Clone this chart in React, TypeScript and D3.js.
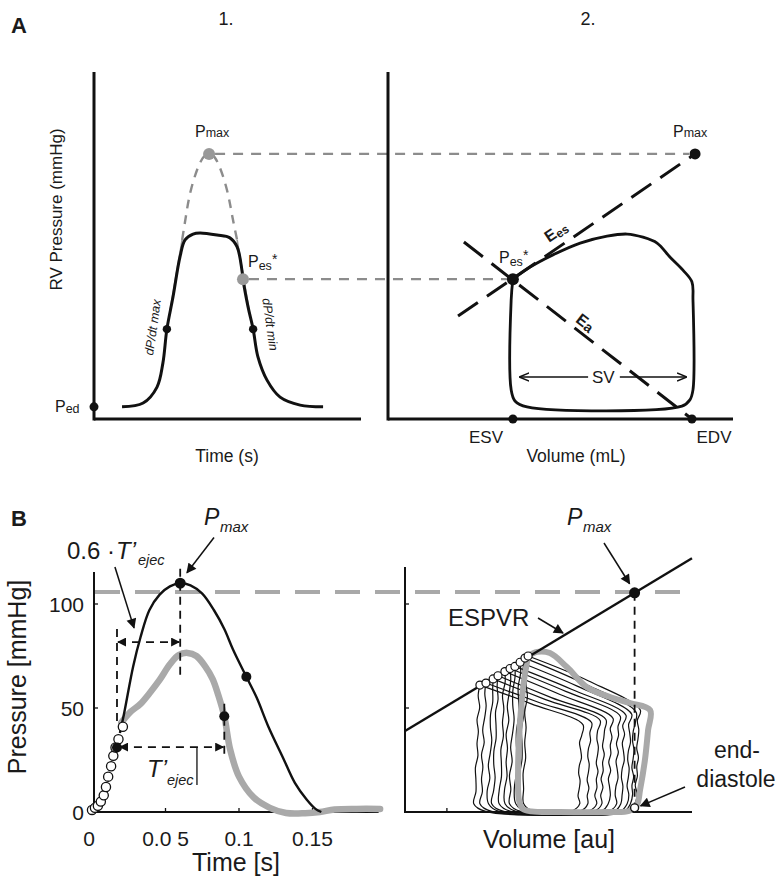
import React from 'react';
import * as d3 from 'd3';

// ---------- Panel A1 : schematic RV pressure vs time (arbitrary units 0-100) ----------
const a1Time = [10.5, 18.4, 23.6, 25.8, 27.3, 29.6, 32.2, 34.1, 37.1, 39.7, 46.1, 50.9, 53.6, 55.4, 55.8, 57.7, 59.6, 61.4, 64.8, 69.7, 77.2, 85.8];
const a1Pressure = [3.5, 4.6, 9.2, 16.1, 25.9, 35.2, 46.7, 51.6, 53.3, 53.6, 53.0, 52.2, 49.6, 42.9, 40.3, 32.3, 25.9, 17.9, 11.2, 6.3, 4.0, 3.5];
const a1EnvTime = [33, 34.5, 36.3, 39.7, 43.1, 46.4, 49.8, 51.7, 53.6];
const a1EnvPressure = [51.6, 58.8, 66, 73.8, 76.4, 73.8, 66, 58.8, 51.6];
const a1TangentTime = [[28.5, 33], [53.6, 58.1]];
const a1TangentPressure = [[31.4, 51.6], [51.6, 31.4]];
const a1Pmax = [43.1, 76.4];
const a1Pes = [55.8, 40.3];
const a1DpdtMax = [27.3, 25.9];
const a1DpdtMin = [59.6, 25.9];
const a1Ped = [0, 3.5];

// ---------- Panel A2 : schematic PV loop ----------
const a2LoopVolume = [36.2, 41.2, 47.8, 55.7, 63.5, 69.3, 73.9, 78, 81.7, 85.5, 88.1, 88.4, 88.4, 87.5, 85.2, 40.3, 36.8, 35.7, 35.7, 36.2];
const a2LoopPressure = [40.3, 43.8, 47.3, 50.7, 52.7, 53.3, 52.4, 50.7, 46.7, 42.9, 39.5, 34.3, 8.4, 5.5, 3.7, 3.5, 5.2, 8.4, 34.3, 40.3];
const a2Pmax = [89, 76.4];
const a2Pes = [36.2, 40.3];
const a2EesStart = [20.3, 29.7];
const a2EaStart = [22, 51];
const a2Esv = 36.2;
const a2Edv = 88.1;
const a2SvLevel = 12.1;

// ---------- Panel B1 : pressure [mmHg] vs time [s] ----------
const b1BlackTime = [0.019, 0.022, 0.028, 0.033, 0.039, 0.046, 0.053, 0.06, 0.067, 0.075, 0.083, 0.09, 0.096, 0.105, 0.112, 0.12, 0.13, 0.138, 0.146, 0.152, 0.156];
const b1BlackP = [38, 48, 70, 84, 97, 104.5, 108.5, 110, 109, 105, 97, 88, 78, 65, 55, 41, 26, 14, 6, 1.5, 0];
const b1GreyTime = [0.020, 0.026, 0.033, 0.039, 0.046, 0.053, 0.059, 0.065, 0.071, 0.077, 0.082, 0.086, 0.09, 0.094, 0.1, 0.11, 0.121, 0.132, 0.145, 0.155, 0.165, 0.18, 0.196];
const b1GreyP = [43, 48, 52, 57, 63.5, 71, 75.5, 76.5, 75, 70, 64, 56, 46, 30, 17, 7, 2, -0.5, -0.6, 0, 1.2, 1.5, 1.5];
const b1OpenTime = [0, 0.002, 0.004, 0.006, 0.008, 0.0095, 0.011, 0.013, 0.0145, 0.016, 0.018, 0.021];
const b1OpenP = [1, 2, 3, 5, 8, 12, 17, 22, 27, 31, 35, 41];
const b1XTicks = [0, 0.05, 0.1, 0.15];
const b1XTickLabels = ['0', '0.0 5', '0.1', '0.15'];
const b1YTicks = [0, 50, 100];
const b1YTickLabels = ['0', '50', '100'];
const bPmaxLevel = 105.8;
const b1Pmax = [0.06, 110];
const b1Fall = [0.105, 65];
const b1Onset = [0.017, 31];
const b1GreyEnd = [0.09, 46];

// ---------- Panel B2 : pressure vs volume [au] ----------
const b2Espvr = [[0, 38.9], [100, 122]];
const b2Pmax = [80, 105.4];
const b2EndDiastole = [80, 2];
const b2EsV = [26.1, 28.2, 30.7, 32.4, 34.8, 36.6, 38.3, 40.1, 41.8, 42.9];
const b2EsP = [61, 62, 64, 65.5, 67.5, 69, 70, 72, 74, 75];
const b2MidV = [44, 46, 49, 51, 54, 56, 58, 60, 62, 64];
const b2MidP = [52, 53, 54, 55, 56.5, 58, 59, 60.5, 62, 63];
const b2EdV = [60.5, 63.5, 66.5, 68.5, 71, 73.5, 75.5, 77.5, 79, 80.5];
const b2CornerP = [42, 43, 44, 44.5, 45, 46, 46.5, 47, 48, 49];
const b2GreyV = [42.9, 46, 50.5, 56.4, 63.4, 71.4, 78.4, 85.4, 84.7, 83.6, 81.9, 80.8, 78, 70, 54, 44, 41, 39.7, 39.4, 39.7, 40.4, 41.5, 42.9];
const b2GreyP = [75, 77, 76.4, 69.7, 60, 55.3, 52.4, 49, 39.4, 25, 10.6, 3.4, 0.5, 0, 0, 0.3, 1.5, 5.8, 20, 34.6, 49, 63.5, 75];
const wiggle = [0.3, -0.4, 0.1, 0.45, -0.2, -0.35, 0.25, 0.05, -0.3, 0.4, -0.1, 0.2, -0.45];

const FONT = '"Liberation Sans", Arial, Helvetica, sans-serif';
const GREY_A = '#8c8c8c';
const GREY_B = '#a9a9a9';

export default function App() {
  const xA1 = d3.scaleLinear().domain([0, 100]).range([94, 361]);
  const xA2 = d3.scaleLinear().domain([0, 100]).range([388, 733]);
  const yA = d3.scaleLinear().domain([0, 100]).range([419, 72]);
  const xB1 = d3.scaleLinear().domain([0, 0.195]).range([92, 378.65]);
  const xB2 = d3.scaleLinear().domain([0, 100]).range([405, 692]);
  const yB = d3.scaleLinear().domain([0, 100]).range([812, 604]);

  const cr = d3.curveCatmullRom.alpha(0.5);
  const lineA1 = d3.line<number>().x((_, i) => xA1(a1Time[i])).y((_, i) => yA(a1Pressure[i])).curve(cr);
  const envA1 = d3.line<number>().x((_, i) => xA1(a1EnvTime[i])).y((_, i) => yA(a1EnvPressure[i])).curve(d3.curveNatural);
  const loopA2 = d3.line<number>().x((_, i) => xA2(a2LoopVolume[i])).y((_, i) => yA(a2LoopPressure[i])).curve(cr);
  const blackB1 = d3.line<number>().x((_, i) => xB1(b1BlackTime[i])).y((_, i) => yB(b1BlackP[i])).curve(cr);
  const greyB1 = d3.line<number>().x((_, i) => xB1(b1GreyTime[i])).y((_, i) => yB(b1GreyP[i])).curve(cr);
  const greyB2 = d3.line<number>().x((_, i) => xB2(b2GreyV[i])).y((_, i) => yB(b2GreyP[i])).curve(cr);
  const ptLine = d3.line<[number, number]>().x(d => xB2(d[0])).y(d => yB(d[1])).curve(cr);

  const blackLoops = b2EsV.map((esV, i) => {
    const pts: [number, number][] = [];
    const edV = b2EdV[i];
    const cP = b2CornerP[i];
    const n = 9;
    pts.push([esV, b2EsP[i]]);
    pts.push([b2MidV[i], b2MidP[i]]);
    pts.push([edV + 1.5, cP]);
    const rTop = cP - 5;
    for (let k = 0; k <= n; k++) {
      const p = rTop - (rTop - 4) * k / n;
      const v = edV + 0.8 - 0.8 * k / n + wiggle[(k + i * 2) % wiggle.length];
      pts.push([v, p]);
    }
    pts.push([edV - 2.5, 0.4]);
    pts.push([esV + 2, 0.3]);
    const lBot = 4;
    const lTop = b2EsP[i] - 5;
    for (let k = 0; k <= n; k++) {
      const p = lBot + (lTop - lBot) * k / n;
      const v = esV - 1.8 + 1.6 * k / n + wiggle[(k + i * 3 + 5) % wiggle.length];
      pts.push([v, p]);
    }
    pts.push([esV, b2EsP[i]]);
    return ptLine(pts) as string;
  });

  const txt = { fontFamily: FONT, fill: '#1a1a1a' } as const;

  return (
    <svg width={780} height={882} viewBox="0 0 780 882" style={{ position: 'absolute', left: 0, top: 0, background: '#fff' }}>
      <defs>
        <marker id="arrF" viewBox="0 0 10 10" refX="9" refY="5" markerWidth="11" markerHeight="10" markerUnits="userSpaceOnUse" orient="auto-start-reverse">
          <path d="M0,0 L10,5 L0,10 z" fill="#111" />
        </marker>
        <marker id="arrS" viewBox="0 0 10 10" refX="9" refY="5" markerWidth="9" markerHeight="9" markerUnits="userSpaceOnUse" orient="auto-start-reverse">
          <path d="M0,0 L10,5 L0,10 z" fill="#111" />
        </marker>
        <marker id="arrO" viewBox="0 0 10 10" refX="9" refY="5" markerWidth="10" markerHeight="10" markerUnits="userSpaceOnUse" orient="auto-start-reverse">
          <path d="M0,1 L10,5 L0,9" fill="none" stroke="#111" strokeWidth="1.4" />
        </marker>
      </defs>
      <rect width={780} height={882} fill="#fff" />

      {/* ================= Panel A ================= */}
      <text x={11} y={33} style={{ ...txt, fontSize: 22, fontWeight: 700 }}>A</text>
      <text x={226} y={25} textAnchor="middle" style={{ ...txt, fontSize: 18 }}>1.</text>
      <text x={588} y={25} textAnchor="middle" style={{ ...txt, fontSize: 18 }}>2.</text>

      {/* A1 axes */}
      <line x1={xA1(0)} y1={yA(100)} x2={xA1(0)} y2={yA(0) + 1.5} stroke="#111" strokeWidth={3} />
      <line x1={xA1(0)} y1={yA(0)} x2={xA1(100)} y2={yA(0)} stroke="#111" strokeWidth={3} />
      <text transform={`translate(62,${(yA(100) + yA(0)) / 2 - 36}) rotate(-90)`} textAnchor="middle" style={{ ...txt, fontSize: 17 }}>RV Pressure (mmHg)</text>
      <text x={227} y={462} textAnchor="middle" style={{ ...txt, fontSize: 17.5 }}>Time (s)</text>

      {/* A1 tangents and envelope */}
      {a1TangentTime.map((tt, i) => (
        <line key={i} x1={xA1(tt[0])} y1={yA(a1TangentPressure[i][0])} x2={xA1(tt[1])} y2={yA(a1TangentPressure[i][1])} stroke="#9a9a9a" strokeWidth={1.6} />
      ))}
      <path d={envA1(a1EnvTime) as string} fill="none" stroke={GREY_A} strokeWidth={2.4} strokeDasharray="9 7" />
      <path d={lineA1(a1Time) as string} fill="none" stroke="#111" strokeWidth={3} />

      {/* horizontal connectors A1 -> A2 */}
      <line x1={xA1(a1Pmax[0]) + 6} y1={yA(a1Pmax[1])} x2={xA2(a2Pmax[0]) - 6} y2={yA(a2Pmax[1])} stroke={GREY_A} strokeWidth={2.4} strokeDasharray="10 8" />
      <line x1={xA1(a1Pes[0]) + 6} y1={yA(a1Pes[1])} x2={xA2(a2Pes[0]) - 6} y2={yA(a2Pes[1])} stroke={GREY_A} strokeWidth={2.4} strokeDasharray="10 8" />

      <circle cx={xA1(a1Pmax[0])} cy={yA(a1Pmax[1])} r={6} fill="#999" />
      <circle cx={xA1(a1Pes[0])} cy={yA(a1Pes[1])} r={6} fill="#999" />
      <circle cx={xA1(a1DpdtMax[0])} cy={yA(a1DpdtMax[1])} r={4.2} fill="#111" />
      <circle cx={xA1(a1DpdtMin[0])} cy={yA(a1DpdtMin[1])} r={4.2} fill="#111" />
      <circle cx={xA1(a1Ped[0])} cy={yA(a1Ped[1])} r={4.5} fill="#111" />

      <text x={195} y={137} style={{ ...txt, fontSize: 16 }}>P<tspan fontSize={12.5}>max</tspan></text>
      <text x={248} y={267} style={{ ...txt, fontSize: 16 }}>P<tspan fontSize={12.5} dy={3}>es</tspan><tspan fontSize={14} dy={-6}>*</tspan></text>
      <text x={55} y={412} style={{ ...txt, fontSize: 16 }}>P<tspan fontSize={12.5} dy={1}>ed</tspan></text>
      <text transform="translate(157,328) rotate(-82)" textAnchor="middle" style={{ ...txt, fontSize: 12.5, fontStyle: 'italic' }}>dP/dt max</text>
      <text transform="translate(266,325) rotate(82)" textAnchor="middle" style={{ ...txt, fontSize: 12.5, fontStyle: 'italic' }}>dP/dt min</text>

      {/* A2 axes */}
      <line x1={xA2(0)} y1={yA(100)} x2={xA2(0)} y2={yA(0) + 1.5} stroke="#111" strokeWidth={3} />
      <line x1={xA2(0)} y1={yA(0)} x2={xA2(100)} y2={yA(0)} stroke="#111" strokeWidth={3} />
      <text x={576} y={462} textAnchor="middle" style={{ ...txt, fontSize: 17.5 }}>Volume (mL)</text>
      <text x={486} y={443} textAnchor="middle" style={{ ...txt, fontSize: 17 }}>ESV</text>
      <text x={714} y={443} textAnchor="middle" style={{ ...txt, fontSize: 17 }}>EDV</text>

      {/* loop */}
      <path d={loopA2(a2LoopVolume) as string} fill="none" stroke="#111" strokeWidth={2.8} />
      {/* Ees and Ea */}
      <line x1={xA2(a2EesStart[0])} y1={yA(a2EesStart[1])} x2={xA2(a2Pmax[0])} y2={yA(a2Pmax[1])} stroke="#111" strokeWidth={3} strokeDasharray="24 11" />
      <line x1={xA2(a2EaStart[0])} y1={yA(a2EaStart[1])} x2={xA2(a2Edv)} y2={yA(0)} stroke="#111" strokeWidth={3} strokeDasharray="24 11" />
      <circle cx={xA2(a2Pmax[0])} cy={yA(a2Pmax[1])} r={5.5} fill="#111" />
      <circle cx={xA2(a2Pes[0])} cy={yA(a2Pes[1])} r={6} fill="#111" />
      <circle cx={xA2(a2Esv)} cy={yA(0)} r={4.5} fill="#111" />
      <circle cx={xA2(a2Edv)} cy={yA(0)} r={4.5} fill="#111" />

      {/* SV arrow */}
      <line x1={xA2(38.3)} y1={yA(a2SvLevel)} x2={xA2(58)} y2={yA(a2SvLevel)} stroke="#111" strokeWidth={1.5} markerStart="url(#arrO)" />
      <line x1={xA2(67.2)} y1={yA(a2SvLevel)} x2={xA2(86.4)} y2={yA(a2SvLevel)} stroke="#111" strokeWidth={1.5} markerEnd="url(#arrO)" />
      <text x={xA2(62.4)} y={yA(a2SvLevel) + 6} textAnchor="middle" style={{ ...txt, fontSize: 17 }}>SV</text>

      <text x={673} y={137} style={{ ...txt, fontSize: 16 }}>P<tspan fontSize={12.5}>max</tspan></text>
      <text x={499} y={263} style={{ ...txt, fontSize: 16 }}>P<tspan fontSize={12.5} dy={3}>es</tspan><tspan fontSize={14} dy={-6}>*</tspan></text>
      <text transform="translate(559,236) rotate(-34)" textAnchor="middle" style={{ ...txt, fontSize: 16, fontWeight: 700 }}>E<tspan fontSize={12} dy={2}>es</tspan></text>
      <text transform="translate(582,327) rotate(38)" textAnchor="middle" style={{ ...txt, fontSize: 16, fontWeight: 700 }}>E<tspan fontSize={14} dy={1}>a</tspan></text>

      {/* ================= Panel B ================= */}
      <text x={11} y={526} style={{ ...txt, fontSize: 22, fontWeight: 700 }}>B</text>

      {/* shared Pmax level */}
      <line x1={xB1(0) + 3} y1={yB(bPmaxLevel)} x2={xB2(99)} y2={yB(bPmaxLevel)} stroke={GREY_B} strokeWidth={4} strokeDasharray="25 15" />

      {/* B1 axes */}
      <line x1={94} y1={yB(115.4)} x2={94} y2={yB(0) + 1} stroke="#111" strokeWidth={2} />
      <line x1={94} y1={yB(0)} x2={xB1(0.195)} y2={yB(0)} stroke="#111" strokeWidth={2} />
      {b1XTicks.slice(1).map(t => (
        <line key={t} x1={xB1(t)} y1={yB(0)} x2={xB1(t)} y2={yB(0) - 4} stroke="#111" strokeWidth={1.3} />
      ))}
      {b1YTicks.slice(1).map(p => (
        <line key={p} x1={94} y1={yB(p)} x2={98} y2={yB(p)} stroke="#111" strokeWidth={1.3} />
      ))}
      {b1YTicks.map((p, i) => (
        <text key={p} x={84} y={yB(p) + 8} textAnchor="end" style={{ ...txt, fontSize: 21 }}>{b1YTickLabels[i]}</text>
      ))}
      {b1XTicks.map((t, i) => (
        <text key={t} x={xB1(t) + (i === 0 ? -3 : 0)} y={846} textAnchor="middle" style={{ ...txt, fontSize: 21 }}>{b1XTickLabels[i]}</text>
      ))}
      <text transform="translate(26,677) rotate(-90)" textAnchor="middle" style={{ ...txt, fontSize: 25 }}>Pressure [mmHg]</text>
      <text x={236} y={871} textAnchor="middle" style={{ ...txt, fontSize: 25 }}>Time [s]</text>

      {/* B1 curves */}
      <path d={greyB1(b1GreyTime) as string} fill="none" stroke={GREY_B} strokeWidth={6.5} strokeLinecap="round" />
      <path d={blackB1(b1BlackTime) as string} fill="none" stroke="#111" strokeWidth={2.4} />

      {/* dashed guides */}
      <line x1={xB1(b1Onset[0])} y1={yB(88)} x2={xB1(b1Onset[0])} y2={yB(41)} stroke="#111" strokeWidth={1.8} strokeDasharray="8 6" />
      <line x1={xB1(b1Pmax[0])} y1={yB(117)} x2={xB1(b1Pmax[0])} y2={yB(66)} stroke="#111" strokeWidth={1.8} strokeDasharray="8 6" />
      <line x1={xB1(b1GreyEnd[0])} y1={yB(52)} x2={xB1(b1GreyEnd[0])} y2={yB(27)} stroke="#111" strokeWidth={1.8} strokeDasharray="8 6" />
      <line x1={xB1(b1Onset[0]) + 1} y1={yB(81.7)} x2={xB1(b1Pmax[0]) - 1} y2={yB(81.7)} stroke="#111" strokeWidth={1.8} strokeDasharray="8 6" markerStart="url(#arrS)" markerEnd="url(#arrS)" />
      <line x1={xB1(0.019)} y1={yB(31.2)} x2={xB1(b1GreyEnd[0]) - 1} y2={yB(31.2)} stroke="#111" strokeWidth={1.8} strokeDasharray="8 6" markerStart="url(#arrS)" markerEnd="url(#arrS)" />
      <line x1={xB1(0.0714)} y1={yB(31.2)} x2={xB1(0.0714)} y2={yB(13)} stroke="#111" strokeWidth={1.3} />

      {/* open circles (isovolumic) */}
      {b1OpenTime.map((t, i) => (
        <circle key={i} cx={xB1(t)} cy={yB(b1OpenP[i])} r={4.6} fill="#fff" stroke="#111" strokeWidth={1.3} />
      ))}
      <circle cx={xB1(b1Onset[0])} cy={yB(b1Onset[1])} r={5} fill="#111" />
      <circle cx={xB1(b1Pmax[0])} cy={yB(b1Pmax[1])} r={5.5} fill="#111" />
      <circle cx={xB1(b1Fall[0])} cy={yB(b1Fall[1])} r={5} fill="#111" />
      <circle cx={xB1(b1GreyEnd[0])} cy={yB(b1GreyEnd[1])} r={5} fill="#111" />

      {/* B1 annotations */}
      <text x={67} y={559} style={{ ...txt, fontSize: 24 }}>0.6 ·</text>
      <text x={116} y={559} style={{ ...txt, fontSize: 24, fontStyle: 'italic' }}>T’</text>
      <text x={138} y={565} style={{ ...txt, fontSize: 14.5, fontStyle: 'italic' }}>ejec</text>
      <line x1={xB1(0.0156)} y1={yB(117.8)} x2={xB1(0.0286)} y2={yB(88.5)} stroke="#111" strokeWidth={1.5} markerEnd="url(#arrF)" />
      <text x={204} y={525} style={{ ...txt, fontSize: 23, fontStyle: 'italic' }}>P</text>
      <text x={220} y={532} style={{ ...txt, fontSize: 15, fontStyle: 'italic' }}>max</text>
      <line x1={xB1(0.083)} y1={yB(132)} x2={xB1(0.0646)} y2={yB(115)} stroke="#111" strokeWidth={1.5} markerEnd="url(#arrF)" />
      <text x={147} y={777} style={{ ...txt, fontSize: 24, fontStyle: 'italic' }}>T’</text>
      <text x={167} y={785} style={{ ...txt, fontSize: 14.5, fontStyle: 'italic' }}>ejec</text>

      {/* B2 axes */}
      <line x1={xB2(0)} y1={yB(117.8)} x2={xB2(0)} y2={yB(0) + 1} stroke="#111" strokeWidth={2} />
      <line x1={xB2(0)} y1={yB(0)} x2={xB2(100)} y2={yB(0)} stroke="#111" strokeWidth={2} />
      <line x1={xB2(0)} y1={yB(100)} x2={xB2(0) + 4} y2={yB(100)} stroke="#111" strokeWidth={1.3} />
      <line x1={xB2(0)} y1={yB(50)} x2={xB2(0) + 4} y2={yB(50)} stroke="#111" strokeWidth={1.3} />
      <line x1={xB2(14.6)} y1={yB(0)} x2={xB2(14.6)} y2={yB(0) - 4} stroke="#111" strokeWidth={1.3} />
      <text x={549} y={848} textAnchor="middle" style={{ ...txt, fontSize: 25 }}>Volume [au]</text>

      {/* loops */}
      {blackLoops.map((d, i) => (
        <path key={i} d={d} fill="none" stroke="#111" strokeWidth={1.2} />
      ))}
      <path d={greyB2(b2GreyV) as string} fill="none" stroke={GREY_B} strokeWidth={6} strokeLinejoin="round" />

      {/* ESPVR */}
      <line x1={xB2(b2Espvr[0][0])} y1={yB(b2Espvr[0][1])} x2={xB2(b2Espvr[1][0])} y2={yB(b2Espvr[1][1])} stroke="#111" strokeWidth={2.4} />
      {b2EsV.map((v, i) => (
        <circle key={i} cx={xB2(v)} cy={yB(b2EsP[i])} r={4} fill="#fff" stroke="#111" strokeWidth={1.2} />
      ))}
      <line x1={xB2(b2Pmax[0])} y1={yB(b2Pmax[1])} x2={xB2(b2EndDiastole[0])} y2={yB(b2EndDiastole[1]) - 4} stroke="#111" strokeWidth={1.8} strokeDasharray="8 6" />
      <circle cx={xB2(b2Pmax[0])} cy={yB(b2Pmax[1])} r={5.5} fill="#111" />
      <circle cx={xB2(b2EndDiastole[0])} cy={yB(b2EndDiastole[1])} r={4} fill="#fff" stroke="#111" strokeWidth={1.4} />

      {/* B2 annotations */}
      <text x={567} y={525} style={{ ...txt, fontSize: 23, fontStyle: 'italic' }}>P</text>
      <text x={583} y={532} style={{ ...txt, fontSize: 15, fontStyle: 'italic' }}>max</text>
      <line x1={604} y1={543} x2={xB2(b2Pmax[0]) - 5} y2={yB(b2Pmax[1]) - 9} stroke="#111" strokeWidth={1.5} markerEnd="url(#arrF)" />
      <text x={448} y={626} style={{ ...txt, fontSize: 24 }}>ESPVR</text>
      <line x1={538} y1={618} x2={563} y2={633} stroke="#111" strokeWidth={1.5} markerEnd="url(#arrF)" />
      <text x={737} y={758} textAnchor="middle" style={{ ...txt, fontSize: 23 }}>end-</text>
      <text x={736} y={787} textAnchor="middle" style={{ ...txt, fontSize: 23 }}>diastole</text>
      <line x1={685} y1={787} x2={xB2(b2EndDiastole[0]) + 6} y2={yB(b2EndDiastole[1]) - 2} stroke="#111" strokeWidth={1.5} markerEnd="url(#arrF)" />
    </svg>
  );
}
